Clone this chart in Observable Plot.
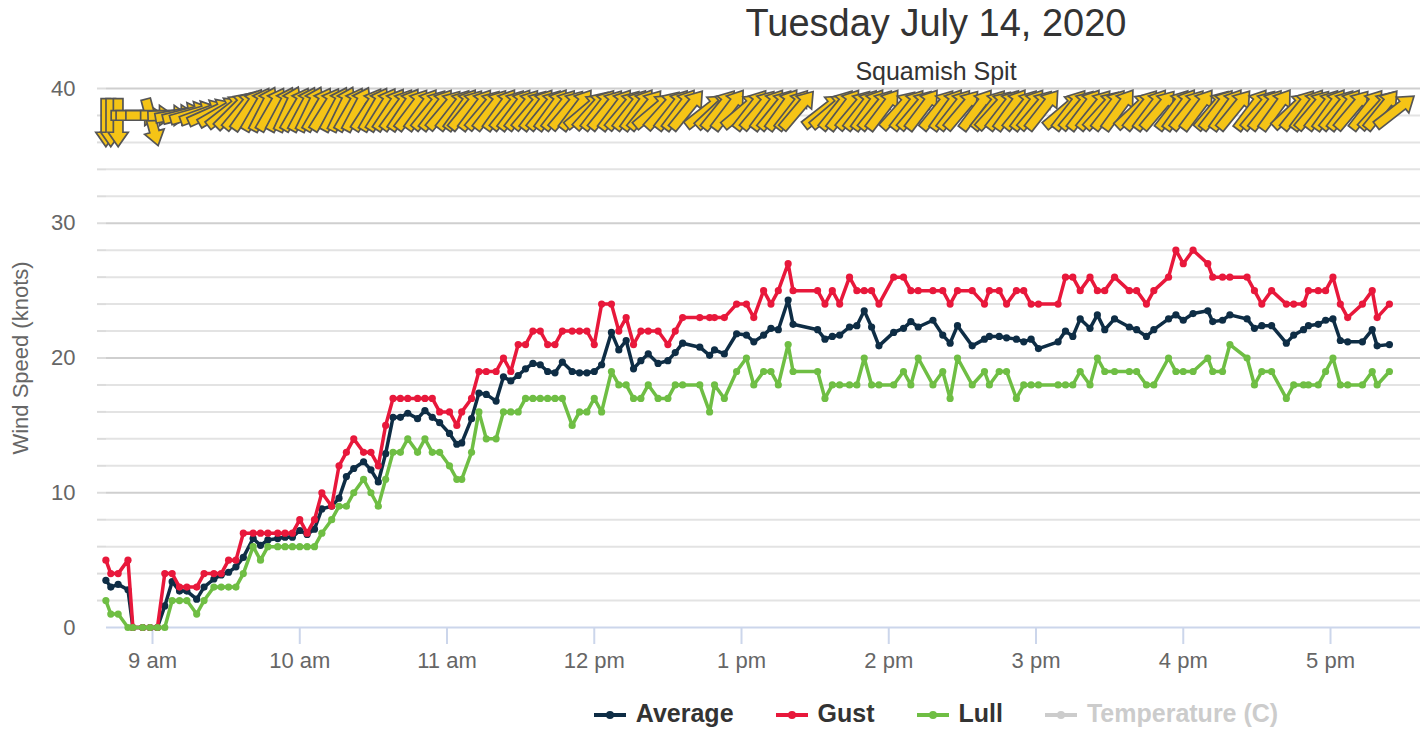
<!DOCTYPE html>
<html>
<head>
<meta charset="utf-8">
<script src="https://cdn.jsdelivr.net/npm/d3@7"></script>
<script src="https://cdn.jsdelivr.net/npm/@observablehq/plot@0.6"></script>
<style>
  body { margin: 0; background: #fff; font-family: "Liberation Sans", Arial, sans-serif; }
  #wrap { width: 1420px; height: 746px; position: relative; overflow: hidden; background: #fff; }
  #head { position: relative; height: 78px; }
  #title, #sub { position: absolute; left: 452px; right: 0; text-align: center; color: #333; white-space: nowrap; }
  #title { top: 4px; font-size: 38px; line-height: 38px; }
  #sub { top: 59px; font-size: 25px; line-height: 25px; }
  #chart svg { display: block; }
  #legend { position: absolute; top: 690px; left: 452px; width: 968px; height: 56px; display: flex; justify-content: center; gap: 42px; padding-top: 11px; box-sizing: border-box; }
  .item { display: flex; align-items: flex-start; gap: 10px; font-weight: bold; font-size: 25px; line-height: 25px; white-space: nowrap; }
  .item svg { margin-top: 8px; }
</style>
</head>
<body>
<div id="wrap">
  <div id="head"><div id="title"></div><div id="sub"></div></div>
  <div id="chart"></div>
  <div id="legend"></div>
</div>
<script>
const titleText = "Tuesday July 14, 2020";
const subtitleText = "Squamish Spit";
const yTitle = "Wind Speed (knots)";

// sample times (local clock, 24h)
const times = [
  "8:41","8:43","8:46","8:50","8:52","8:56","8:59","9:02","9:05","9:08",
  "9:11","9:14","9:18","9:21","9:25","9:28","9:31","9:34","9:37","9:41",
  "9:44","9:47","9:51","9:54","9:57","10:00","10:03","10:06","10:09","10:13",
  "10:16","10:19","10:22","10:26","10:29","10:32","10:35","10:38",
  "10:41","10:44","10:48","10:51","10:54","10:57","11:01","11:04","11:06","11:10",
  "11:13","11:16","11:20","11:23","11:26","11:29","11:32","11:35","11:38","11:41",
  "11:44","11:47","11:51","11:54","11:57","12:00","12:03","12:07","12:10","12:13",
  "12:16","12:19","12:22","12:26","12:30","12:33","12:36","12:43","12:47","12:49",
  "12:53","12:58",
  "13:02","13:05","13:09","13:12","13:15","13:19","13:21","13:31","13:34","13:37",
  "13:40","13:44","13:47","13:50","13:53","13:56","14:02","14:06","14:09","14:12",
  "14:18","14:22","14:25","14:28","14:34","14:39","14:41","14:45","14:48","14:52",
  "14:55","14:58","15:01","15:09",
  "15:12","15:15","15:18","15:22","15:25","15:28","15:32","15:38","15:41","15:45",
  "15:48","15:54","15:57","16:00","16:04","16:10","16:12","16:16","16:19","16:26",
  "16:29","16:32","16:36","16:42","16:45","16:49","16:51","16:55","16:58","17:01",
  "17:04","17:07","17:13","17:17","17:19","17:24"
];

const average = [
  3.5,3.0,3.2,2.8,0,0,0,0,1.6,3.4,
  2.7,2.7,2.1,3.0,3.6,3.9,4.1,4.5,5.2,6.6,
  6.1,6.5,6.6,6.7,6.7,7.2,6.9,7.3,8.8,9.0,
  9.6,11.2,11.8,12.3,11.7,10.8,12.9,15.6,
  15.6,15.9,15.5,16.1,15.6,15.2,14.4,13.6,13.7,15.5,
  17.4,17.3,16.8,18.6,18.3,18.7,19.2,19.6,19.5,19.0,
  18.9,19.7,19.0,18.9,18.9,19.0,19.5,21.9,20.6,21.3,
  19.2,19.8,20.3,19.6,19.8,20.4,21.1,20.8,20.2,20.6,
  20.3,21.8,
  21.7,21.2,21.7,22.2,22.1,24.3,22.5,22.1,21.4,21.6,
  21.7,22.3,22.4,23.5,22.3,20.9,21.9,22.2,22.7,22.3,
  22.8,21.7,21.1,22.4,20.9,21.4,21.6,21.6,21.5,21.4,
  21.2,21.4,20.7,21.2,
  22.0,21.6,22.9,22.2,23.2,22.1,22.9,22.3,22.1,21.6,
  22.1,22.9,23.2,22.8,23.3,23.5,22.7,22.8,23.2,22.9,
  22.2,22.4,22.4,21.1,21.7,22.1,22.4,22.5,22.8,22.9,
  21.3,21.2,21.2,22.1,20.9,21.0
];

const gust = [
  5,4,4,5,0,0,0,0,4,4,
  3,3,3,4,4,4,5,5,7,7,
  7,7,7,7,7,8,7,8,10,9,
  12,13,14,13,13,12,15,17,
  17,17,17,17,17,16,16,15,16,17,
  19,19,19,20,19,21,21,22,22,21,
  21,22,22,22,22,21,24,24,22,23,
  21,22,22,22,21,22,23,23,23,23,
  23,24,
  24,23,25,24,25,27,25,25,24,25,
  24,26,25,25,25,24,26,26,25,25,
  25,25,24,25,25,24,25,25,24,25,
  25,24,24,24,
  26,26,25,26,25,25,26,25,25,24,
  25,26,28,27,28,27,26,26,26,26,
  25,24,25,24,24,24,25,25,25,26,
  24,23,24,25,23,24
];

const lull = [
  2,1,1,0,0,0,0,0,0,2,
  2,2,1,2,3,3,3,3,4,6,
  5,6,6,6,6,6,6,6,7,8,
  9,9,10,11,10,9,11,13,
  13,14,13,14,13,13,12,11,11,13,
  16,14,14,16,16,16,17,17,17,17,
  17,17,15,16,16,17,16,19,18,18,
  17,17,18,17,17,18,18,18,16,18,
  17,19,
  20,18,19,19,18,21,19,19,17,18,
  18,18,18,20,18,18,18,19,18,20,
  18,19,17,20,18,19,18,19,19,17,
  18,18,18,18,
  18,18,19,18,20,19,19,19,19,18,
  18,20,19,19,19,20,19,19,21,20,
  18,19,19,17,18,18,18,18,19,20,
  18,18,18,19,18,19
];

// heading the wind arrow points to (degrees clockwise from straight up)
const direction = [
  180,180,180,90,90,90,165,90,88,80,
  76,74,70,66,60,52,45,40,35,30,
  27,30,28,25,30,28,26,30,32,28,
  26,30,28,33,30,32,34,36,
  34,37,36,39,37,40,38,36,39,37,
  40,38,36,39,37,38,40,37,39,36,
  38,40,37,50,42,38,39,37,40,38,
  36,39,50,42,38,37,39,52,47,39,
  37,50,
  38,40,37,39,36,38,40,52,50,39,
  37,40,38,36,39,37,42,38,40,37,
  39,36,38,40,37,39,42,38,36,39,
  37,40,38,50,
  38,40,37,39,42,38,36,47,39,37,
  40,38,36,39,37,40,38,36,39,37,
  40,38,36,47,39,37,40,38,36,39,
  37,40,38,42,39,52
];

const arrowLevel = 38;
const xTickHours = [9,10,11,12,13,14,15,16,17];
const xTickLabels = ["9 am","10 am","11 am","12 pm","1 pm","2 pm","3 pm","4 pm","5 pm"];
const yLabelTicks = [0,10,20,30,40];
const legendNames = ["Average","Gust","Lull","Temperature (C)"];
const colors = {Average: "#0e2d45", Gust: "#e8183b", Lull: "#6fbe44", "Temperature (C)": "#cccccc"};

const day = (h, m, s = 0) => new Date(Date.UTC(2020, 6, 14, h, m, s));
const parse = t => { const [h, m] = t.split(":").map(Number); return day(h, m); };
const rows = times.map((t, i) => ({time: parse(t), average: average[i], gust: gust[i], lull: lull[i], dir: direction[i]}));

const minorGrid = d3.range(0, 41, 2).filter(v => v % 10 !== 0);
const majorGrid = yLabelTicks.filter(v => v > 0);
const allTicks = d3.range(2, 41, 2);
const hourDates = xTickHours.map(h => day(h, 0));

const blockArrow = {
  draw(ctx, l) {
    const tail = l * 0.35, tip = l * 0.65, hl = l * 0.3, sw = l * 0.1, hw = l * 0.21;
    ctx.moveTo(-sw, tail);
    ctx.lineTo(-sw, -tip + hl);
    ctx.lineTo(-hw, -tip + hl);
    ctx.lineTo(0, -tip);
    ctx.lineTo(hw, -tip + hl);
    ctx.lineTo(sw, -tip + hl);
    ctx.lineTo(sw, tail);
    ctx.closePath();
  }
};

function seriesMarks(key, name) {
  return [
    Plot.line(rows, {x: "time", y: key, stroke: colors[name], strokeWidth: 3.5, strokeLinejoin: "round"}),
    Plot.dot(rows, {x: "time", y: key, r: 3.6, fill: colors[name], stroke: "none"})
  ];
}

function build(custom) {
  return Plot.plot({
    width: 1420,
    height: 612,
    marginTop: 10,
    marginBottom: 63,
    marginLeft: 106,
    marginRight: 0,
    style: {fontFamily: "'Liberation Sans', Arial, sans-serif", background: "#fff", color: "#666", overflow: "visible"},
    x: {type: "utc", domain: [day(8, 41, 15), day(17, 36, 40)]},
    y: {domain: [0, 40]},
    marks: [
      Plot.ruleY(minorGrid, {stroke: "#e3e3e3", strokeWidth: 2}),
      Plot.ruleY(majorGrid, {stroke: "#cfcfcf", strokeWidth: 2}),
      Plot.axisY(allTicks, {tickSize: 9, stroke: "#dcdcdc", strokeWidth: 2, tickFormat: () => "", label: null}),
      Plot.axisY(yLabelTicks, {tickSize: 0, tickPadding: 31, fontSize: 22, fill: "#666", label: yTitle, labelAnchor: "center", labelOffset: 94, labelArrow: "none"}),
      Plot.axisX(hourDates, {tickSize: 17, tickPadding: 8, stroke: "#ccd6eb", strokeWidth: 2, fontSize: 22, fill: "#666", label: null,
        tickFormat: d => xTickLabels[xTickHours.indexOf(d.getUTCHours())]}),
      Plot.ruleY([0], {stroke: "#ccd6eb", strokeWidth: 2}),
      Plot.vector(rows, {x: "time", y: () => arrowLevel, rotate: "dir", length: 48, anchor: "start",
        shape: custom ? blockArrow : "arrow", fill: custom ? "#f5c416" : "none", stroke: custom ? "#555555" : "#d4a800",
        strokeWidth: custom ? 1.7 : 3, strokeLinejoin: "miter"}),
      ...seriesMarks("average", "Average"),
      ...seriesMarks("gust", "Gust"),
      ...seriesMarks("lull", "Lull")
    ]
  });
}

let chart;
try { chart = build(true); } catch (e) { chart = build(false); }
document.getElementById("chart").appendChild(chart);
document.getElementById("title").textContent = titleText;
document.getElementById("sub").textContent = subtitleText;

const legend = document.getElementById("legend");
for (const name of legendNames) {
  const c = colors[name];
  const item = document.createElement("div");
  item.className = "item";
  item.style.color = name === "Temperature (C)" ? "#cccccc" : "#333333";
  item.innerHTML = `<svg width="32" height="12" viewBox="0 0 32 12"><line x1="0" y1="6" x2="32" y2="6" stroke="${c}" stroke-width="4"/><circle cx="16" cy="6" r="4" fill="${c}"/></svg><span>${name}</span>`;
  legend.appendChild(item);
}
</script>
</body>
</html>
